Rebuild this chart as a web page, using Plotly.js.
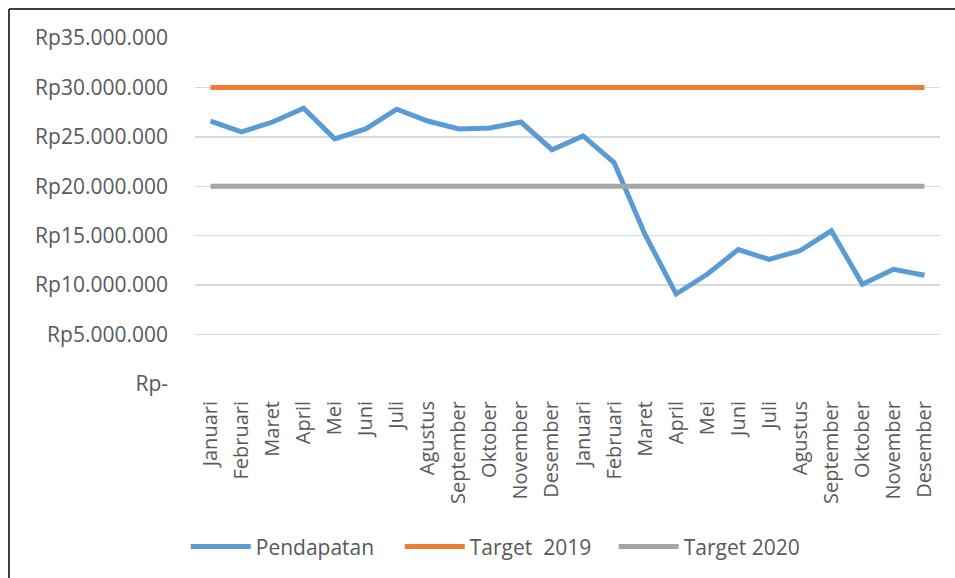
<!DOCTYPE html>
<html>
<head>
<meta charset="utf-8">
<script src="https://cdn.plot.ly/plotly-3.0.1.min.js"></script>
<style>
  html, body { margin: 0; padding: 0; background: #ffffff; }
  #chart { width: 955px; height: 578px; }
</style>
</head>
<body>
<div id="chart"></div>
<script>
const monthLabels = ['Januari','Februari','Maret','April','Mei','Juni','Juli','Agustus','September','Oktober','November','Desember',
                     'Januari','Februari','Maret','April','Mei','Juni','Juli','Agustus','September','Oktober','November','Desember'];
const pendapatan = [26600000, 25500000, 26500000, 27900000, 24800000, 25800000, 27800000, 26600000, 25800000, 25900000, 26500000, 23700000,
                    25100000, 22400000, 15100000, 9100000, 11100000, 13600000, 12600000, 13500000, 15500000, 10100000, 11600000, 11000000];
const target2019 = [30000000,30000000,30000000,30000000,30000000,30000000,30000000,30000000,30000000,30000000,30000000,30000000,
                    30000000,30000000,30000000,30000000,30000000,30000000,30000000,30000000,30000000,30000000,30000000,30000000];
const target2020 = [20000000,20000000,20000000,20000000,20000000,20000000,20000000,20000000,20000000,20000000,20000000,20000000,
                    20000000,20000000,20000000,20000000,20000000,20000000,20000000,20000000,20000000,20000000,20000000,20000000];
const yTickVals = [0, 5000000, 10000000, 15000000, 20000000, 25000000, 30000000, 35000000];
const yTickText = ['Rp-', 'Rp5.000.000', 'Rp10.000.000', 'Rp15.000.000', 'Rp20.000.000', 'Rp25.000.000', 'Rp30.000.000', 'Rp35.000.000'];

const xIdx = monthLabels.map((_, i) => i);

const traces = [
  { x: xIdx, y: pendapatan, name: 'Pendapatan', type: 'scatter', mode: 'lines',
    line: { color: '#5B9BD5', width: 5 } },
  { x: xIdx, y: target2019, name: 'Target  2019', type: 'scatter', mode: 'lines',
    line: { color: '#ED7D31', width: 5 } },
  { x: xIdx, y: target2020, name: 'Target 2020', type: 'scatter', mode: 'lines',
    line: { color: '#A5A5A5', width: 5 } }
];

const layout = {
  width: 955, height: 578,
  margin: { l: 195, r: 15, t: 38, b: 194, autoexpand: false },
  paper_bgcolor: '#ffffff', plot_bgcolor: '#ffffff',
  font: { family: 'Open Sans, Noto Sans, sans-serif', color: '#595959', size: 20 },
  showlegend: true,
  legend: {
    orientation: 'h', xref: 'container', yref: 'container', x: 0.1945, y: 0.054,
    yanchor: 'middle', xanchor: 'left', itemwidth: 60,
    font: { size: 21, color: '#595959' }, entrywidth: 139, entrywidthmode: 'pixels',
    bgcolor: 'rgba(0,0,0,0)'
  },
  xaxis: {
    range: [-0.5, 23.5], tickmode: 'array', tickvals: xIdx, ticktext: monthLabels,
    tickangle: -90, showgrid: false, zeroline: false, showline: false, ticks: '',
    automargin: false,
    ticklabelstandoff: 12, tickfont: { size: 20, color: '#595959' }, fixedrange: true
  },
  yaxis: {
    range: [0, 35000000], tickmode: 'array', tickvals: yTickVals, ticktext: yTickText,
    showgrid: true, gridcolor: '#D9D9D9', gridwidth: 1.5, zeroline: false, showline: false,
    automargin: false,
    ticks: '', ticklabelstandoff: 26, tickfont: { size: 21, color: '#595959' }, fixedrange: true
  },
  shapes: [
    { type: 'line', xref: 'paper', yref: 'paper', x0: -0.2497, x1: -0.2497, y0: 1.0838, y1: -0.58,
      line: { color: '#000000', width: 1.5 } },
    { type: 'line', xref: 'paper', yref: 'paper', x0: -0.2497, x1: 1.03, y0: 1.0838, y1: 1.0838,
      line: { color: '#000000', width: 1.5 } }
  ]
};

Plotly.newPlot('chart', traces, layout, { displayModeBar: false, staticPlot: true });
</script>
</body>
</html>
